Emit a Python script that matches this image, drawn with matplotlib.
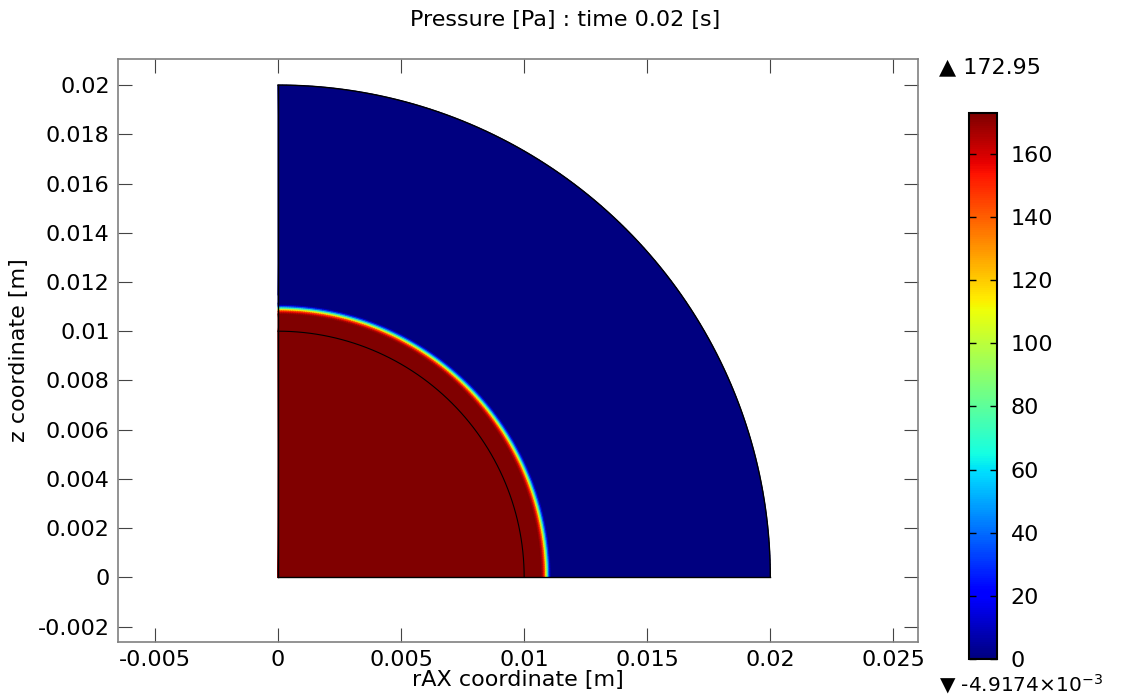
import numpy as np
import matplotlib
matplotlib.use('Agg')
import matplotlib.pyplot as plt

# radial pressure profile (r in m, p in Pa)
r_nodes = [0.0, 0.0100, 0.0107, 0.01080, 0.01088, 0.01094, 0.01100, 0.01105, 0.01110, 0.0115, 0.0200]
p_nodes = [172.95, 172.95, 172.95, 155.0, 115.0, 75.0, 40.0, 12.0, 0.0, 0.0, 0.0]

p_min = -4.9174e-3
p_max = 172.95
x_ticks = [-0.005, 0, 0.005, 0.01, 0.015, 0.02, 0.025]
y_ticks = [-0.002, 0, 0.002, 0.004, 0.006, 0.008, 0.01, 0.012, 0.014, 0.016, 0.018, 0.02]
cb_ticks = [0, 20, 40, 60, 80, 100, 120, 140, 160]
r_inner = 0.01
r_outer = 0.02

fig = plt.figure(figsize=(11.25, 6.98), dpi=100)
ax = fig.add_axes([0.1049, 0.0802, 0.7111, 0.8353])

theta = np.linspace(0, np.pi / 2, 181)
R, T = np.meshgrid(np.array(r_nodes), theta)
P = np.tile(np.array(p_nodes), (len(theta), 1))
mesh = ax.pcolormesh(R * np.cos(T), R * np.sin(T), P, cmap='jet',
                     vmin=p_min, vmax=p_max, shading='gouraud', rasterized=True)

# domain outline and inner boundary
ax.plot(r_outer * np.cos(theta), r_outer * np.sin(theta), color='black', lw=1)
ax.plot([0, r_outer], [0, 0], color='black', lw=1)
ax.plot([0, 0], [0, r_outer], color='black', lw=1)
ax.plot(r_inner * np.cos(theta), r_inner * np.sin(theta), color='black', lw=0.8)

ax.set_xlim(-0.0065, 0.026)
ax.set_ylim(-0.00263, 0.02106)
ax.set_xticks(x_ticks)
ax.set_xticklabels(['-0.005', '0', '0.005', '0.01', '0.015', '0.02', '0.025'])
ax.set_yticks(y_ticks)
ax.set_yticklabels(['-0.002', '0', '0.002', '0.004', '0.006', '0.008', '0.01',
                    '0.012', '0.014', '0.016', '0.018', '0.02'])
ax.tick_params(direction='in', length=10, width=0.8, color='#444444',
               top=True, right=True, labelsize=16, pad=6)
for sp in ax.spines.values():
    sp.set_color('#808080')
    sp.set_linewidth(1.2)
ax.set_xlabel('rAX coordinate [m]', fontsize=16, labelpad=0)
ax.set_ylabel('z coordinate [m]', fontsize=16, labelpad=6)
fig.text(0.502, 0.972, 'Pressure [Pa] : time 0.02 [s]', ha='center', va='center', fontsize=16)

cax = fig.add_axes([0.8613, 0.056, 0.0249, 0.782])
cb = fig.colorbar(mesh, cax=cax, ticks=cb_ticks)
cb.outline.set_linewidth(1.5)
cax.tick_params(direction='in', length=5, width=1, color='black',
                left=True, right=True, labelsize=16, pad=10)
fig.text(0.835, 0.904, '\u25B2 172.95', ha='left', va='center', fontsize=16)
fig.text(0.835, 0.003, '\u25BC -4.9174\u00D710$^{-3}$', ha='left', va='bottom', fontsize=14.5)

fig.savefig('out.png', dpi=100)
